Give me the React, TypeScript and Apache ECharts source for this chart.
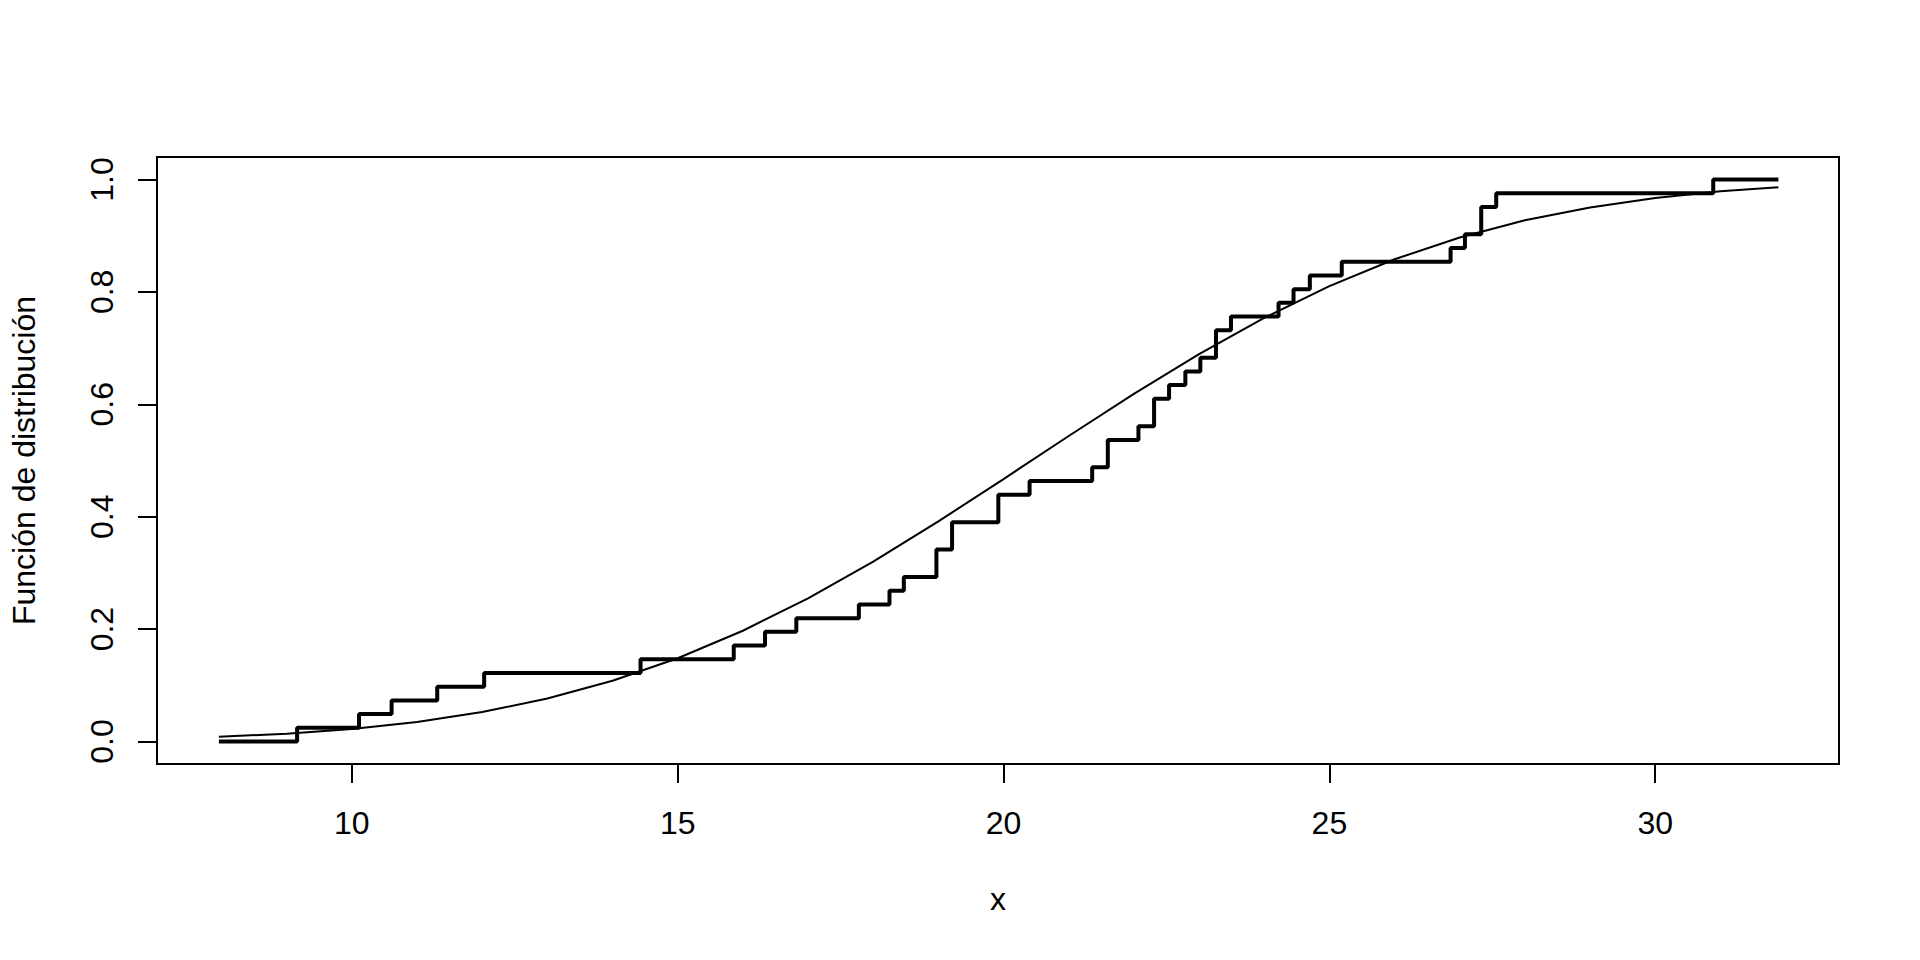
import React, { useEffect, useRef } from "react";
import * as echarts from "echarts";

const OBS: number[] = [
  9.16, 10.11, 10.61, 11.31, 12.03, 14.43, 15.86, 16.34, 16.82, 17.78,
  18.25, 18.47, 18.97, 18.97, 19.21, 19.21, 19.92, 19.92, 20.4, 21.36,
  21.6, 21.6, 22.07, 22.31, 22.31, 22.54, 22.79, 23.02, 23.26, 23.26,
  23.49, 24.22, 24.45, 24.7, 25.19, 26.86, 27.08, 27.33, 27.33, 27.56,
  30.89,
];
// ECDF drawn from / to
const ECDF_RANGE: number[] = [7.96, 31.89];

// Fitted normal CDF curve
const CURVE_X: number[] = [
  7.96, 9, 10, 11, 12, 13, 14, 15, 16, 17, 18, 19, 20, 21, 22, 23, 24, 25,
  26, 27, 28, 29, 30, 31, 31.89,
];
const CURVE_Y: number[] = [
  0.0083, 0.014, 0.0224, 0.0349, 0.0525, 0.0765, 0.1081, 0.1482, 0.1971,
  0.2548, 0.3202, 0.3917, 0.467, 0.5436, 0.6186, 0.6894, 0.7538, 0.8103,
  0.858, 0.8968, 0.9273, 0.9503, 0.9671, 0.979, 0.9862,
];

const X_TICKS: number[] = [10, 15, 20, 25, 30];
const Y_TICKS: number[] = [0, 0.2, 0.4, 0.6, 0.8, 1.0];
const X_RANGE: number[] = [7.01, 32.82];
const Y_RANGE: number[] = [-0.04, 1.04];

const X_TITLE = "x";
const Y_TITLE = "Función de distribución";

const FONT = '"Liberation Sans", Arial, sans-serif';

function buildEcdf(): number[][] {
  const n = OBS.length;
  const sorted = [...OBS].sort((a, b) => a - b);
  const pts: number[][] = [[ECDF_RANGE[0], 0]];
  let i = 0;
  while (i < n) {
    let j = i;
    while (j < n && sorted[j] === sorted[i]) j++;
    pts.push([sorted[i], j / n]);
    i = j;
  }
  pts.push([ECDF_RANGE[1], 1]);
  return pts;
}

export default function App() {
  const ref = useRef<HTMLDivElement>(null);

  useEffect(() => {
    if (!ref.current) return;
    const chart = echarts.init(ref.current, null, { renderer: "svg" });
    const left = 157;
    const top = 157;
    const width = 1682;
    const height = 607;

    chart.setOption({
      animation: false,
      backgroundColor: "#ffffff",
      grid: {
        left,
        top,
        width,
        height,
        show: true,
        borderColor: "#000",
        borderWidth: 2,
        backgroundColor: "transparent",
      },
      xAxis: {
        type: "value",
        position: "bottom",
        min: X_RANGE[0],
        max: X_RANGE[1],
        axisLine: { show: false, onZero: false },
        splitLine: { show: false },
        axisTick: {
          show: true,
          customValues: X_TICKS,
          length: 19,
          inside: false,
          lineStyle: { color: "#000", width: 2 },
        },
        axisLabel: {
          customValues: X_TICKS,
          margin: 43,
          color: "#000",
          fontSize: 32,
          fontFamily: FONT,
          lineHeight: 32,
          formatter: (v: number) => String(v),
        },
      },
      yAxis: {
        type: "value",
        position: "left",
        min: Y_RANGE[0],
        max: Y_RANGE[1],
        axisLine: { show: false, onZero: false },
        splitLine: { show: false },
        axisTick: {
          show: true,
          customValues: Y_TICKS,
          length: 19,
          inside: false,
          lineStyle: { color: "#000", width: 2 },
        },
        axisLabel: {
          customValues: Y_TICKS,
          rotate: 90,
          margin: 39,
          color: "#000",
          fontSize: 32,
          fontFamily: FONT,
          lineHeight: 32,
          formatter: (v: number) => v.toFixed(1),
        },
      },
      graphic: [
        {
          type: "text",
          x: left + width / 2,
          y: 899,
          style: {
            text: X_TITLE,
            fill: "#000",
            font: `32px ${FONT}`,
            align: "center",
            verticalAlign: "middle",
          },
        },
        {
          type: "text",
          x: 24,
          y: top + height / 2,
          rotation: Math.PI / 2,
          style: {
            text: Y_TITLE,
            fill: "#000",
            font: `32px ${FONT}`,
            align: "center",
            verticalAlign: "middle",
          },
        },
      ],
      series: [
        {
          type: "line",
          step: "end",
          data: buildEcdf(),
          showSymbol: false,
          symbol: "none",
          lineStyle: { color: "#000", width: 4 },
          z: 2,
        },
        {
          type: "line",
          data: CURVE_X.map((x, k) => [x, CURVE_Y[k]]),
          showSymbol: false,
          symbol: "none",
          lineStyle: { color: "#000", width: 2 },
          z: 3,
        },
      ],
    });

    return () => chart.dispose();
  }, []);

  return (
    <div
      ref={ref}
      style={{
        position: "fixed",
        left: 0,
        top: 0,
        width: 1920,
        height: 960,
        background: "#fff",
      }}
    />
  );
}
